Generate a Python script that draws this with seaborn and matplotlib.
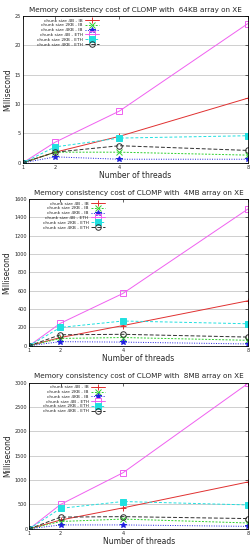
import matplotlib
matplotlib.use("Agg")
import matplotlib.pyplot as plt
import seaborn as sns
import numpy as np

sns.set_style("white")
plt.rcParams['font.family'] = ['DejaVu Sans']

threads = [1, 2, 4, 8]
labels = ["chunk size 4B - IB", "chunk size 2KB - IB", "chunk size 4KB - IB",
          "chunk size 4B - ETH", "chunk size 2KB - ETH", "chunk size 4KB - ETH"]

# 64KB array
kb64_4b_ib = [0, 1.8, 4.5, 11.0]
kb64_2kb_ib = [0, 1.8, 1.8, 1.3]
kb64_4kb_ib = [0, 1.0, 0.6, 0.6]
kb64_4b_eth = [0, 3.5, 8.8, 23.7]
kb64_2kb_eth = [0, 2.7, 4.2, 4.6]
kb64_4kb_eth = [0, 1.8, 2.9, 2.1]

# 4MB array
mb4_4b_ib = [0, 90, 220, 490]
mb4_2kb_ib = [0, 80, 90, 60]
mb4_4kb_ib = [0, 45, 40, 20]
mb4_4b_eth = [0, 245, 570, 1490]
mb4_2kb_eth = [0, 200, 270, 240]
mb4_4kb_eth = [0, 120, 125, 95]

# 8MB array
mb8_4b_ib = [0, 180, 430, 960]
mb8_2kb_ib = [0, 150, 200, 120]
mb8_4kb_ib = [0, 80, 80, 50]
mb8_4b_eth = [0, 500, 1150, 2980]
mb8_2kb_eth = [0, 420, 560, 490]
mb8_4kb_eth = [0, 240, 250, 210]

titles = ["Memory consistency cost of CLOMP with  64KB array on XE",
          "Memory consistency cost of CLOMP with  4MB array on XE",
          "Memory consistency cost of CLOMP with  8MB array on XE"]

panels = [
    [kb64_4b_ib, kb64_2kb_ib, kb64_4kb_ib, kb64_4b_eth, kb64_2kb_eth, kb64_4kb_eth],
    [mb4_4b_ib, mb4_2kb_ib, mb4_4kb_ib, mb4_4b_eth, mb4_2kb_eth, mb4_4kb_eth],
    [mb8_4b_ib, mb8_2kb_ib, mb8_4kb_ib, mb8_4b_eth, mb8_2kb_eth, mb8_4kb_eth],
]
yticks = [np.arange(0, 26, 5), np.arange(0, 1601, 200), np.arange(0, 3001, 500)]

colors = ["#e03030", "#30d030", "#2020e0", "#f060f0", "#20e0e0", "#303030"]
markers = ["+", "x", "*", "s", "s", "o"]
mfcs = [None, None, None, "none", "#20e0e0", "none"]
styles = ["-", (0, (2, 1.5)), (0, (1, 1.5)), "-", (0, (3, 2)), (0, (4, 2))]

fig = plt.figure(figsize=(2.53, 5.48), dpi=100)
rects = [
    [0.091, 0.703, 0.889, 0.268],
    [0.115, 0.369, 0.865, 0.268],
    [0.116, 0.035, 0.864, 0.267],
]

for rect, series, title, yt in zip(rects, panels, titles, yticks):
    ax = fig.add_axes(rect)
    for vals, lab, c, m, mfc, ls in zip(series, labels, colors, markers, mfcs, styles):
        kw = dict(markersize=4, markeredgewidth=0.7)
        if mfc is not None:
            kw["markerfacecolor"] = mfc
        sns.lineplot(x=threads, y=vals, ax=ax, color=c, marker=m, linestyle=ls,
                     linewidth=0.7, label=lab, markeredgecolor=c, **kw)
    ax.set_xlim(1, 8)
    ax.set_ylim(yt[0], yt[-1])
    ax.set_xticks(threads)
    ax.set_yticks(yt)
    ax.tick_params(labelsize=3.5, length=2, width=0.5, direction="in", pad=1.5,
                   top=True, right=True)
    for s in ax.spines.values():
        s.set_linewidth(0.6)
        s.set_color("black")
    ax.yaxis.grid(True, color="#c8c8c8", linewidth=0.6)
    ax.set_axisbelow(True)
    ax.set_title(title, fontsize=5.2, pad=3)
    ax.set_xlabel("Number of threads", fontsize=5.5, labelpad=1)
    ax.set_ylabel("Millisecond", fontsize=5.5, labelpad=2)
    leg = ax.legend(loc="upper left", fontsize=3.2, frameon=False, markerfirst=False,
                    handlelength=3.0, handletextpad=0.6, labelspacing=0.15,
                    borderaxespad=0.2, bbox_to_anchor=(0.05, 1.0))

fig.savefig("out.png", dpi=100)
